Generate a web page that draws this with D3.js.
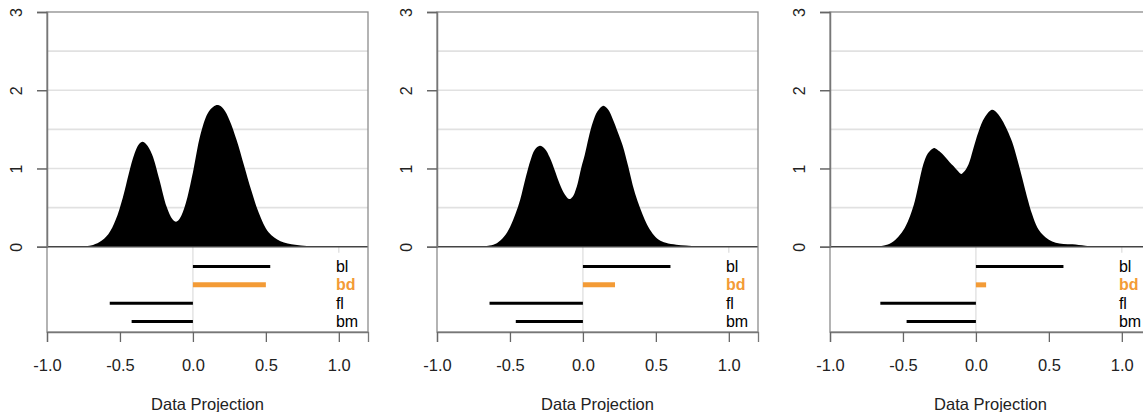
<!DOCTYPE html>
<html><head><meta charset="utf-8">
<script src="https://cdn.jsdelivr.net/npm/d3@7"></script>
<style>body{margin:0;background:#fff}svg{display:block;font-family:"Liberation Sans",Arial,sans-serif}</style>
</head><body><svg id="c" width="1143" height="412"></svg>
<script>
const xTicks = [-1, -0.5, 0, 0.5, 1];
const yTicks = [0, 1, 2, 3];
const gridVals = [0.5, 1, 1.5, 2, 2.5];
const rows = ["bl", "bd", "fl", "bm"];
const highlightRow = "bd";
const xLabel = "Data Projection";

const dens1X = [-0.775,-0.70,-0.64,-0.58,-0.53,-0.48,-0.44,-0.40,-0.37,-0.345,-0.32,-0.28,-0.23,-0.18,-0.14,-0.115,-0.09,-0.05,0.0,0.05,0.10,0.14,0.173,0.21,0.25,0.30,0.35,0.40,0.45,0.52,0.60,0.70,0.78,0.847];
const dens1Y = [0,0.015,0.06,0.16,0.34,0.63,0.93,1.19,1.31,1.34,1.31,1.18,0.86,0.51,0.35,0.32,0.36,0.55,0.95,1.42,1.70,1.79,1.81,1.76,1.62,1.36,1.04,0.72,0.44,0.18,0.07,0.025,0.008,0];

const dens2X = [-0.71,-0.64,-0.59,-0.54,-0.50,-0.46,-0.43,-0.39,-0.36,-0.33,-0.295,-0.26,-0.227,-0.19,-0.159,-0.125,-0.095,-0.07,-0.045,-0.01,0.012,0.04,0.068,0.10,0.136,0.17,0.205,0.24,0.273,0.31,0.341,0.375,0.409,0.44,0.477,0.52,0.568,0.64,0.705,0.79,0.864];
const dens2Y = [0,0.015,0.045,0.13,0.25,0.43,0.60,0.90,1.10,1.24,1.29,1.25,1.14,0.96,0.80,0.67,0.61,0.64,0.75,1.02,1.17,1.40,1.59,1.73,1.80,1.76,1.63,1.46,1.29,1.03,0.79,0.58,0.41,0.28,0.17,0.09,0.05,0.025,0.015,0.006,0];

const dens3X = [-0.694,-0.63,-0.579,-0.53,-0.488,-0.45,-0.419,-0.39,-0.361,-0.33,-0.30,-0.281,-0.25,-0.212,-0.18,-0.154,-0.125,-0.101,-0.08,-0.051,-0.02,0.018,0.06,0.11,0.145,0.179,0.215,0.248,0.283,0.317,0.35,0.386,0.42,0.455,0.50,0.547,0.60,0.662,0.75,0.846];
const dens3Y = [0,0.015,0.05,0.13,0.24,0.40,0.58,0.82,1.05,1.19,1.25,1.26,1.22,1.15,1.08,1.03,0.97,0.93,0.96,1.05,1.24,1.47,1.65,1.75,1.71,1.62,1.49,1.34,1.12,0.88,0.64,0.41,0.25,0.16,0.09,0.05,0.035,0.03,0.012,0];

const seg1Lo = [0, 0, -0.57, -0.42], seg1Hi = [0.53, 0.50, 0, 0];
const seg2Lo = [0, 0, -0.64, -0.46], seg2Hi = [0.60, 0.22, 0, 0];
const seg3Lo = [0, 0, -0.655, -0.475], seg3Hi = [0.60, 0.07, 0, 0];

const panels = [
  {dx: dens1X, dy: dens1Y, lo: seg1Lo, hi: seg1Hi},
  {dx: dens2X, dy: dens2Y, lo: seg2Lo, hi: seg2Hi},
  {dx: dens3X, dy: dens3Y, lo: seg3Lo, hi: seg3Hi}
];
const axisLefts = [47, 437, 830];
const ORANGE = "#f39b36";

const svg = d3.select("#c");
const plotTop = 12, zeroY = 246.7, plotBottom = 332;

panels.forEach((p, i) => {
  const L = axisLefts[i];
  const x = d3.scaleLinear().domain([-1, 1.2]).range([L, L + 321]);
  const y = d3.scaleLinear().domain([0, 3]).range([zeroY, plotTop]);
  const ry = d3.scalePoint().domain(rows).range([266.5, 321.5]);
  const g = svg.append("g");

  g.selectAll(".grid").data(gridVals).join("line")
    .attr("x1", x(-1)).attr("x2", x(1.2))
    .attr("y1", d => y(d)).attr("y2", d => y(d))
    .attr("stroke", "#e1e1e1").attr("stroke-width", 1.6);

  g.append("line").attr("x1", x(0)).attr("x2", x(0))
    .attr("y1", zeroY).attr("y2", plotBottom)
    .attr("stroke", "#dcdcdc").attr("stroke-width", 1.2);
  g.append("line").attr("x1", x(1)).attr("x2", x(1))
    .attr("y1", zeroY).attr("y2", zeroY + 6)
    .attr("stroke", "#dcdcdc").attr("stroke-width", 1.2);

  const pts = p.dx.map((v, k) => [v, p.dy[k]]);
  const area = d3.area().x(d => x(d[0])).y0(y(0)).y1(d => y(d[1])).curve(d3.curveCatmullRom.alpha(0.5));
  g.append("path").datum(pts).attr("d", area).attr("fill", "#000");

  g.append("line").attr("x1", x(-1)).attr("x2", x(1.2))
    .attr("y1", y(0)).attr("y2", y(0))
    .attr("stroke", "#444").attr("stroke-width", 1.5);

  g.append("rect").attr("x", x(-1)).attr("y", plotTop)
    .attr("width", x(1.2) - x(-1)).attr("height", plotBottom - plotTop)
    .attr("fill", "none").attr("stroke", "#8c8c8c").attr("stroke-width", 1.3);

  const ya = g.append("g").attr("transform", `translate(${L},0)`)
    .call(d3.axisLeft(y).tickValues(yTicks).tickSize(10).tickFormat(d3.format("d")));
  ya.select(".domain").attr("stroke", "#777").attr("stroke-width", 1.5);
  ya.selectAll(".tick line").attr("stroke", "#666").attr("stroke-width", 1.5);
  ya.selectAll(".tick text").attr("font-size", 16).attr("fill", "#222")
    .attr("text-anchor", "middle").attr("dy", null).attr("x", null)
    .attr("transform", "translate(-31,0) rotate(-90)")
    .attr("dominant-baseline", "central");

  const xa = g.append("g").attr("transform", `translate(0,${plotBottom})`)
    .call(d3.axisBottom(x).tickValues(xTicks).tickSize(10).tickFormat(d => d3.format(".1f")(d).replace("−", "-")));
  xa.select(".domain").attr("stroke", "#777").attr("stroke-width", 1.3);
  xa.selectAll(".tick line").attr("stroke", "#666").attr("stroke-width", 1.3);
  xa.selectAll(".tick text").attr("font-size", 16.5).attr("fill", "#222")
    .attr("y", 39).attr("dy", null);

  g.selectAll(".seg").data(rows).join("line")
    .attr("x1", (d, k) => x(p.lo[k])).attr("x2", (d, k) => x(p.hi[k]))
    .attr("y1", d => ry(d)).attr("y2", d => ry(d))
    .attr("stroke", d => d === highlightRow ? ORANGE : "#000")
    .attr("stroke-width", d => d === highlightRow ? 5 : 3);

  g.selectAll(".lab").data(rows).join("text")
    .attr("x", x(0.98)).attr("y", d => ry(d))
    .attr("dominant-baseline", "central")
    .attr("font-size", 16)
    .attr("font-weight", d => d === highlightRow ? "bold" : "normal")
    .attr("fill", d => d === highlightRow ? ORANGE : "#000")
    .text(d => d);

  g.append("text").attr("x", x(0.1)).attr("y", 410)
    .attr("text-anchor", "middle").attr("font-size", 16.5).attr("fill", "#222")
    .text(xLabel);
});
</script></body></html>
